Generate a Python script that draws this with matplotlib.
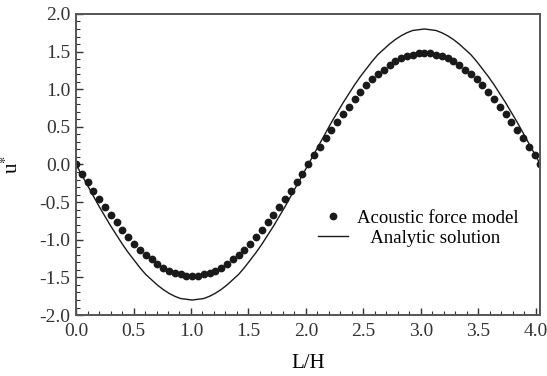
import matplotlib
matplotlib.use("Agg")
import matplotlib.pyplot as plt
from matplotlib.ticker import MultipleLocator

plt.rcParams['font.family'] = ['Liberation Serif', 'DejaVu Serif']
plt.rcParams['mathtext.fontset'] = 'stix'

# L/H positions of the samples (dots and analytic curve share the same grid)
x_vals = [0.0000, 0.0505, 0.1010, 0.1515, 0.2020, 0.2525, 0.3030, 0.3535, 0.4040, 0.4545,
          0.5050, 0.5555, 0.6060, 0.6565, 0.7070, 0.7575, 0.8080, 0.8585, 0.9090, 0.9595,
          1.0100, 1.0605, 1.1110, 1.1615, 1.2120, 1.2625, 1.3130, 1.3635, 1.4140, 1.4645,
          1.5150, 1.5655, 1.6160, 1.6665, 1.7170, 1.7675, 1.8180, 1.8685, 1.9190, 1.9695,
          2.0200, 2.0705, 2.1210, 2.1715, 2.2220, 2.2725, 2.3230, 2.3735, 2.4240, 2.4745,
          2.5250, 2.5755, 2.6260, 2.6765, 2.7270, 2.7775, 2.8280, 2.8785, 2.9290, 2.9795,
          3.0300, 3.0805, 3.1310, 3.1815, 3.2320, 3.2825, 3.3330, 3.3835, 3.4340, 3.4845,
          3.5350, 3.5855, 3.6360, 3.6865, 3.7370, 3.7875, 3.8380, 3.8885, 3.9390, 3.9895,
          4.0400]

# acoustic force model (dots)
u_model = [0.00, -0.12, -0.23, -0.35, -0.46, -0.57, -0.67, -0.77, -0.87, -0.96,
           -1.05, -1.13, -1.20, -1.26, -1.32, -1.37, -1.41, -1.44, -1.46, -1.48,
           -1.48, -1.48, -1.46, -1.44, -1.41, -1.37, -1.32, -1.26, -1.20, -1.13,
           -1.05, -0.96, -0.87, -0.77, -0.67, -0.57, -0.46, -0.35, -0.23, -0.12,
           0.00, 0.12, 0.23, 0.35, 0.46, 0.57, 0.67, 0.77, 0.87, 0.96,
           1.05, 1.13, 1.20, 1.26, 1.32, 1.37, 1.41, 1.44, 1.46, 1.48,
           1.48, 1.48, 1.46, 1.44, 1.41, 1.37, 1.32, 1.26, 1.20, 1.13,
           1.05, 0.96, 0.87, 0.77, 0.67, 0.57, 0.46, 0.35, 0.23, 0.12,
           0.00]

# analytic solution (line)
u_analytic = [0.00, -0.14, -0.28, -0.42, -0.56, -0.69, -0.82, -0.94, -1.06, -1.17,
              -1.27, -1.37, -1.46, -1.53, -1.60, -1.66, -1.71, -1.75, -1.78, -1.79,
              -1.80, -1.79, -1.78, -1.75, -1.71, -1.66, -1.60, -1.53, -1.46, -1.37,
              -1.27, -1.17, -1.06, -0.94, -0.82, -0.69, -0.56, -0.42, -0.28, -0.14,
              0.00, 0.14, 0.28, 0.42, 0.56, 0.69, 0.82, 0.94, 1.06, 1.17,
              1.27, 1.37, 1.46, 1.53, 1.60, 1.66, 1.71, 1.75, 1.78, 1.79,
              1.80, 1.79, 1.78, 1.75, 1.71, 1.66, 1.60, 1.53, 1.46, 1.37,
              1.27, 1.17, 1.06, 0.94, 0.82, 0.69, 0.56, 0.42, 0.28, 0.14,
              0.00]

fig = plt.figure(figsize=(5.47, 3.76), dpi=100)
ax = fig.add_axes([0.139, 0.162, 0.848, 0.801])

ax.plot(x_vals, u_model, 'o', color='#1a1a1a', markersize=5.6, markeredgewidth=0,
        label='Acoustic force model')
ax.plot(x_vals, u_analytic, '-', color='#1a1a1a', linewidth=1.0,
        label='   Analytic solution')

ax.set_xlim(0, 4.035)
ax.set_ylim(-2.0, 2.0)
ax.xaxis.set_major_locator(MultipleLocator(0.5))
ax.xaxis.set_minor_locator(MultipleLocator(0.1))
ax.yaxis.set_major_locator(MultipleLocator(0.5))
ax.yaxis.set_minor_locator(MultipleLocator(0.1))
ax.xaxis.set_major_formatter(matplotlib.ticker.FormatStrFormatter('%.1f'))
ax.yaxis.set_major_formatter(matplotlib.ticker.FormatStrFormatter('%.1f'))

ax.tick_params(which='both', direction='in', labelsize=14, colors='#333333',
               top=False, right=False)
ax.tick_params(which='major', length=5, width=1.0)
ax.tick_params(which='minor', length=3, width=0.8)
ax.tick_params(axis='x', pad=6)
ax.tick_params(axis='y', pad=4)
for s in ax.spines.values():
    s.set_color('#555555')
    s.set_linewidth(1.4)

ax.set_xlabel('L/H', fontsize=15, labelpad=10)
ax.set_ylabel(r'u$^{*}$', fontsize=15, labelpad=12)

ax.legend(loc='upper left', bbox_to_anchor=(0.505, 0.375), frameon=False, fontsize=13.5,
          handlelength=1.6, handletextpad=0.5, labelspacing=0.15, borderaxespad=0)

fig.savefig('out.png', dpi=100)
